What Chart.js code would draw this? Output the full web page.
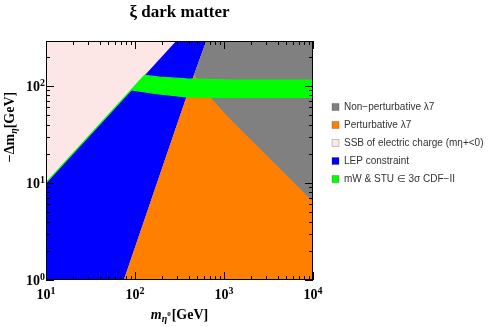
<!DOCTYPE html>
<html><head><meta charset="utf-8">
<script src="https://cdn.jsdelivr.net/npm/chart.js@4/dist/chart.umd.min.js"></script>
<style>html,body{margin:0;padding:0;background:#fff}canvas{display:block}</style>
</head><body>
<canvas id="c" width="492" height="327"></canvas>
<script>
// ---- data (x: m_eta0 [GeV], y: -Delta m_eta [GeV]) ----
const seriesLabels = ['Non\u2212perturbative \u03bb7','Perturbative \u03bb7','SSB of electric charge (m\u03b7+<0)','LEP constraint','mW & STU \u2208 3\u03c3 CDF\u2212II'];
const seriesColors = ['#808080','#ff8000','#fde6e6','#0000ff','#00ff00'];
const xRange = [10, 10000];
const yRange = [1, 290];
const xMajorTicks = [10, 100, 1000, 10000];
const yMajorTicks = [1, 10, 100];
const xTickExp = ['1','2','3','4'];
const yTickExp = ['0','1','2'];
// region boundaries
const ssbBoundary = [[10,10],[300,300]];            // m_eta+ = 0 line
const lepBoundary = [[75,1],[461,130],[640,300]];   // LEP limit
const pertBoundary = [[461,130],[741,72],[1200,44.6],[10000,6.4]]; // perturbativity limit
const cdfUpper = [[128,128],[190,123],[380,118],[1150,115],[10000,115]];
const cdfLower = [[91,91],[175,83],[380,77],[1150,76],[10000,76]];

// polygons built from the boundaries
const ssbPoly = [...ssbBoundary, [10,300]];
const lepPoly = [[10,1], ...ssbBoundary, ...lepBoundary.slice().reverse()];
const nonPertPoly = [...lepBoundary, [10000,300],[10000,1]];
const pertPoly = [lepBoundary[0], ...pertBoundary, [10000,1]];
const cdfPoly = [ssbBoundary[0], ...cdfUpper, ...cdfLower.slice().reverse(), ssbBoundary[0]];

const polys = [nonPertPoly, pertPoly, ssbPoly, lepPoly, cdfPoly];
const drawOrder = [2, 1, 4, 3, 0]; // lower = on top

const datasets = polys.map((p, i) => ({
  label: seriesLabels[i],
  data: p.map(([x, y]) => ({x, y})),
  showLine: true,
  fill: 'shape',
  backgroundColor: seriesColors[i],
  borderColor: seriesColors[i],
  borderWidth: i === 4 ? 1.2 : 0,
  pointRadius: 0,
  tension: 0,
  order: drawOrder[i]
}));

const SERIF = '"Liberation Serif", "Times New Roman", serif';

function drawParts(ctx, parts, x, y, align) {
  let w = 0;
  for (const p of parts) { ctx.font = p.font; w += ctx.measureText(p.t).width + (p.gap || 0); }
  let cx = align === 'center' ? x - w / 2 : (align === 'right' ? x - w : x);
  for (const p of parts) {
    ctx.font = p.font;
    ctx.fillText(p.t, cx, y + (p.dy || 0));
    cx += ctx.measureText(p.t).width + (p.gap || 0);
  }
}

const framePlugin = {
  id: 'frame',
  beforeInit(chart) {
    const lg = chart.legend;
    if (lg) {
      const fit = lg.fit;
      lg.fit = function () { fit.call(this); this.width = 179; };
    }
  },
  afterLayout(chart) {
    const lg = chart.legend;
    if (lg) { lg.left = 324; lg.right = 492; lg.top = 94; lg.bottom = 327; }
  },
  afterDatasetsDraw(chart) {
    const {ctx, chartArea: a, scales: {x, y}} = chart;
    ctx.save();
    ctx.strokeStyle = '#000';
    ctx.lineWidth = 1;
    ctx.beginPath();
    const xt = [], yt = [];
    for (let i = 0; i < xMajorTicks.length; i++) {
      xt.push([xMajorTicks[i], 8]);
      if (i < xMajorTicks.length - 1) for (let m = 2; m <= 9; m++) xt.push([xMajorTicks[i] * m, 4]);
    }
    for (let i = 0; i < yMajorTicks.length; i++) {
      yt.push([yMajorTicks[i], 8]);
      for (let m = 2; m <= 9; m++) { const v = yMajorTicks[i] * m; if (v <= yRange[1]) yt.push([v, 4]); }
    }
    for (const [v, L] of xt) {
      const px = Math.round(x.getPixelForValue(v)) + 0.5;
      ctx.moveTo(px, a.bottom); ctx.lineTo(px, a.bottom - L);
      ctx.moveTo(px, a.top); ctx.lineTo(px, a.top + L);
    }
    for (const [v, L] of yt) {
      const py = Math.round(y.getPixelForValue(v)) + 0.5;
      ctx.moveTo(a.left, py); ctx.lineTo(a.left + L, py);
      ctx.moveTo(a.right, py); ctx.lineTo(a.right - L, py);
    }
    ctx.stroke();
    ctx.strokeRect(a.left + 0.5, a.top + 0.5, a.right - a.left - 1, a.bottom - a.top - 1);

    // tick labels
    ctx.fillStyle = '#000';
    ctx.textBaseline = 'alphabetic';
    const base = 'bold 14px ' + SERIF, sup = 'bold 10px ' + SERIF;
    xMajorTicks.forEach((v, i) => {
      drawParts(ctx, [{t: '10', font: base}, {t: xTickExp[i], font: sup, dy: -5}], x.getPixelForValue(v), 299, 'center');
    });
    yMajorTicks.forEach((v, i) => {
      drawParts(ctx, [{t: '10', font: base}, {t: yTickExp[i], font: sup, dy: -5}], 45, y.getPixelForValue(v) + 5, 'right');
    });

    // axis titles
    drawParts(ctx, [
      {t: 'm', font: 'italic bold 14px ' + SERIF},
      {t: '\u03b7', font: 'italic bold 10px ' + SERIF, dy: 3},
      {t: '0', font: 'bold 7px ' + SERIF, dy: -3, gap: 1},
      {t: '[GeV]', font: 'bold 14px ' + SERIF}
    ], (a.left + a.right) / 2, 319, 'center');

    ctx.save();
    ctx.translate(14, 127);
    ctx.rotate(-Math.PI / 2);
    drawParts(ctx, [
      {t: '\u2212\u0394m', font: 'bold 14px ' + SERIF},
      {t: '\u03b7', font: 'italic bold 10px ' + SERIF, dy: 3},
      {t: '[GeV]', font: 'bold 14px ' + SERIF}
    ], 0, 0, 'center');
    ctx.restore();

    // title
    drawParts(ctx, [{t: '\u03be dark matter', font: 'bold 17px ' + SERIF}], (a.left + a.right) / 2, 17, 'center');
    ctx.restore();
  }
};

new Chart(document.getElementById('c'), {
  type: 'scatter',
  data: {datasets},
  options: {
    responsive: false,
    animation: false,
    devicePixelRatio: 1,
    layout: {padding: {top: 41, left: 0, right: 0, bottom: 0}},
    scales: {
      x: {
        type: 'logarithmic', min: xRange[0], max: xRange[1],
        ticks: {display: false}, grid: {display: false}, border: {display: false},
        afterFit: (s) => { s.height = 47; }
      },
      y: {
        type: 'logarithmic', min: yRange[0], max: yRange[1],
        ticks: {display: false}, grid: {display: false}, border: {display: false},
        afterFit: (s) => { s.width = 46; }
      }
    },
    plugins: {
      tooltip: {enabled: false},
      legend: {
        position: 'right',
        align: 'start',
        labels: {
          font: {family: '"Liberation Sans", Arial, sans-serif', size: 10},
          color: '#333',
          boxWidth: 7, boxHeight: 7, padding: 8,
          sort: (a, b) => a.datasetIndex - b.datasetIndex,
          generateLabels: (chart) => {
            const items = Chart.defaults.plugins.legend.labels.generateLabels(chart);
            items.forEach(it => { it.lineWidth = 0.6; it.strokeStyle = 'rgba(0,0,0,0.35)'; });
            return items;
          }
        }
      }
    }
  },
  plugins: [framePlugin]
});
</script>
</body></html>
